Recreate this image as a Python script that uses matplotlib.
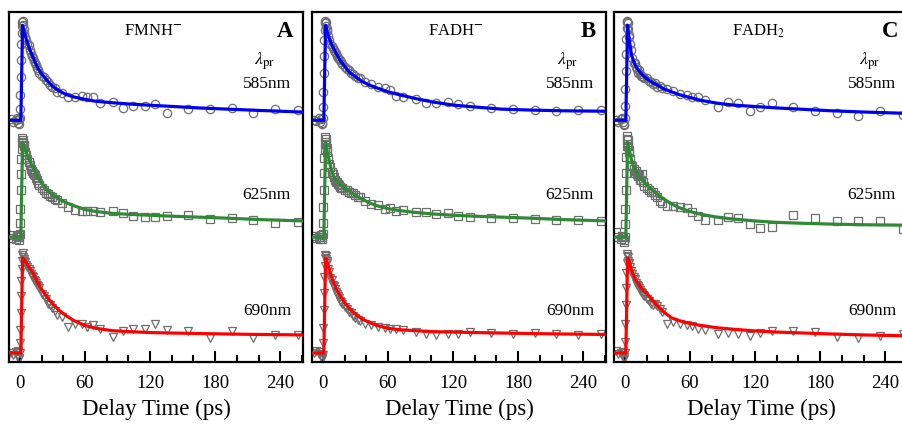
import matplotlib
matplotlib.use("Agg")
import matplotlib.pyplot as plt
from matplotlib.ticker import MultipleLocator

plt.rcParams['font.family'] = ['Liberation Serif', 'DejaVu Serif']
plt.rcParams['mathtext.fontset'] = 'stix'

# delay times of the measured points (ps)
t_data = [-8, -6, -4, -3, -2, -1, -0.5, 0, 0.3, 0.6, 0.9, 1.2, 1.5, 1.8, 2.1, 2.4, 2.7, 3.0, 3.5,
          4, 5, 6, 7, 8, 9, 10, 11, 12, 13, 14, 15, 16, 17, 18, 20, 22, 24, 26, 28, 30, 32, 34,
          39, 44, 51, 57, 62, 67, 74, 86, 95, 104, 115, 125, 136, 155, 175, 196, 215, 235, 256]

# delay times of the fitted curves (ps)
t_fit = [-10, 0.9, 2.5, 4, 6, 8, 10, 13, 16, 20, 25, 30, 36, 43, 50, 60, 70, 85, 100, 120, 140,
         165, 190, 220, 262]

# normalized transient absorption, panel A (FMNH-)
a585 = [0.01, -0.02, 0.0, 0.02, -0.03, 0.01, -0.04,
        0.02, 0.12, 0.27, 0.46, 0.63, 0.8, 0.92, 0.99, 1.03, 1.04, 1.0, 0.96,
        0.92, 0.88, 0.84, 0.8, 0.79, 0.74, 0.71, 0.68, 0.66, 0.62, 0.6, 0.58, 0.55, 0.53, 0.5,
        0.47, 0.46, 0.42, 0.4, 0.37, 0.35, 0.34, 0.3,
        0.29, 0.25, 0.25, 0.26, 0.24, 0.24, 0.18, 0.19, 0.13, 0.15, 0.15, 0.17, 0.075, 0.12,
        0.12, 0.13, 0.075, 0.12, 0.11]
a625 = [-0.01, 0.02, -0.02, 0.01, 0.0, -0.03, 0.02,
        0.03, 0.15, 0.3, 0.5, 0.66, 0.82, 0.93, 1.0, 1.04, 1.02, 0.99, 0.97,
        0.96, 0.9, 0.86, 0.82, 0.79, 0.76, 0.72, 0.7, 0.68, 0.66, 0.65, 0.62, 0.6, 0.57, 0.55,
        0.52, 0.5, 0.46, 0.45, 0.43, 0.42, 0.4, 0.39,
        0.36, 0.32, 0.29, 0.28, 0.28, 0.27, 0.26, 0.28, 0.25, 0.22, 0.21, 0.21, 0.22, 0.23,
        0.19, 0.2, 0.18, 0.15, 0.16]
a690 = [0.0, -0.02, 0.01, -0.03, 0.02, -0.05, -0.06,
        0.0, 0.1, 0.24, 0.42, 0.6, 0.76, 0.88, 0.97, 1.03, 1.05, 1.01, 0.99,
        0.97, 0.96, 0.93, 0.9, 0.88, 0.86, 0.83, 0.81, 0.8, 0.77, 0.76, 0.74, 0.72, 0.7, 0.68,
        0.62, 0.6, 0.57, 0.52, 0.5, 0.47, 0.44, 0.4,
        0.38, 0.27, 0.3, 0.3, 0.27, 0.29, 0.25, 0.17, 0.23, 0.25, 0.25, 0.3, 0.24, 0.23,
        0.16, 0.23, 0.16, 0.19, 0.19]

# panel B (FADH-)
b585 = [0.0, -0.01, 0.02, -0.02, 0.01, -0.03, -0.04,
        0.02, 0.14, 0.3, 0.5, 0.68, 0.84, 0.95, 1.02, 1.05, 1.03, 0.99, 0.96,
        0.94, 0.89, 0.85, 0.8, 0.78, 0.76, 0.74, 0.72, 0.71, 0.68, 0.66, 0.64, 0.63, 0.61, 0.59,
        0.56, 0.54, 0.53, 0.5, 0.49, 0.47, 0.45, 0.44,
        0.4, 0.38, 0.35, 0.34, 0.32, 0.26, 0.245, 0.22, 0.18, 0.18, 0.19, 0.17, 0.15, 0.13,
        0.117, 0.106, 0.096, 0.106, 0.106]
b625 = [0.01, -0.01, 0.0, -0.02, 0.02, -0.02, 0.0,
        0.03, 0.15, 0.32, 0.5, 0.68, 0.83, 0.93, 1.0, 1.05, 1.03, 0.98, 0.94,
        0.9, 0.83, 0.77, 0.74, 0.69, 0.66, 0.63, 0.6, 0.58, 0.58, 0.56, 0.55, 0.53, 0.52, 0.52,
        0.5, 0.5, 0.48, 0.46, 0.46, 0.44, 0.42, 0.42,
        0.38, 0.35, 0.34, 0.3, 0.31, 0.28, 0.29, 0.26, 0.26, 0.24, 0.25, 0.22, 0.21, 0.2,
        0.2, 0.19, 0.18, 0.18, 0.17]
b690 = [0.0, 0.02, -0.01, 0.01, -0.03, -0.05, -0.06,
        -0.02, 0.1, 0.26, 0.45, 0.63, 0.8, 0.92, 1.0, 1.03, 1.02, 0.99, 0.97,
        0.95, 0.88, 0.85, 0.79, 0.77, 0.72, 0.7, 0.67, 0.64, 0.62, 0.6, 0.58, 0.55, 0.54, 0.52,
        0.48, 0.46, 0.43, 0.42, 0.39, 0.37, 0.35, 0.34,
        0.31, 0.29, 0.27, 0.26, 0.25, 0.25, 0.24, 0.22, 0.2, 0.19, 0.2, 0.2, 0.22, 0.21,
        0.2, 0.21, 0.2, 0.19, 0.2]

# panel C (FADH2)
c585 = [0.0, -0.02, 0.01, 0.02, -0.02, -0.04, -0.05,
        0.02, 0.15, 0.33, 0.52, 0.7, 0.86, 0.97, 1.03, 1.05, 1.02, 0.96, 0.9,
        0.88, 0.8, 0.74, 0.66, 0.6, 0.6, 0.56, 0.54, 0.5, 0.53, 0.49, 0.47, 0.47, 0.46, 0.44,
        0.45, 0.41, 0.4, 0.38, 0.39, 0.35, 0.36, 0.34,
        0.33, 0.31, 0.28, 0.27, 0.25, 0.24, 0.21, 0.135, 0.19, 0.18, 0.1, 0.135, 0.18, 0.135,
        0.094, 0.073, 0.04, 0.094, 0.06]
c625 = [0.05, 0.0, -0.02, 0.01, 0.0, -0.03, -0.05,
        0.0, 0.14, 0.3, 0.5, 0.68, 0.84, 0.96, 1.03, 1.06, 1.02, 0.96, 0.92,
        0.9, 0.82, 0.76, 0.75, 0.72, 0.68, 0.7, 0.66, 0.64, 0.65, 0.6, 0.6, 0.66, 0.58, 0.54,
        0.52, 0.5, 0.48, 0.47, 0.44, 0.42, 0.38, 0.36,
        0.33, 0.33, 0.32, 0.31, 0.26, 0.22, 0.18, 0.18, 0.21, 0.2, 0.135, 0.1, 0.11, 0.23,
        0.2, 0.17, 0.17, 0.17, 0.083]
c690 = [0.02, -0.01, 0.0, -0.02, 0.01, -0.04, -0.06,
        0.0, 0.12, 0.3, 0.5, 0.68, 0.84, 0.95, 1.02, 1.04, 1.01, 0.97, 0.95,
        0.95, 0.9, 0.86, 0.83, 0.8, 0.78, 0.74, 0.72, 0.71, 0.68, 0.66, 0.64, 0.63, 0.61, 0.6,
        0.57, 0.55, 0.52, 0.5, 0.52, 0.49, 0.46, 0.43,
        0.31, 0.33, 0.3, 0.29, 0.28, 0.255, 0.245, 0.2, 0.21, 0.2, 0.18, 0.21, 0.235, 0.23,
        0.22, 0.17, 0.16, 0.18, 0.2]

# fitted curves
fa585 = [0, 0, 1, 0.93, 0.85, 0.78, 0.72, 0.64, 0.56, 0.49, 0.42, 0.36, 0.31, 0.27, 0.245, 0.22,
         0.2, 0.185, 0.172, 0.158, 0.146, 0.13, 0.118, 0.104, 0.086]
fa625 = [0, 0, 1, 0.95, 0.89, 0.83, 0.78, 0.71, 0.64, 0.57, 0.5, 0.45, 0.4, 0.36, 0.33, 0.29,
         0.27, 0.25, 0.24, 0.23, 0.22, 0.21, 0.2, 0.185, 0.17]
fa690 = [0, 0, 1, 0.98, 0.95, 0.91, 0.88, 0.82, 0.75, 0.67, 0.59, 0.52, 0.45, 0.39, 0.34, 0.29,
         0.26, 0.235, 0.225, 0.215, 0.21, 0.205, 0.2, 0.195, 0.19]
fb585 = [0, 0, 1, 0.93, 0.86, 0.8, 0.755, 0.69, 0.63, 0.57, 0.5, 0.46, 0.41, 0.37, 0.34, 0.3,
         0.27, 0.23, 0.195, 0.16, 0.14, 0.117, 0.108, 0.1, 0.095]
fb625 = [0, 0, 1, 0.9, 0.8, 0.7, 0.64, 0.59, 0.55, 0.52, 0.48, 0.44, 0.4, 0.36, 0.33, 0.3,
         0.28, 0.26, 0.245, 0.23, 0.22, 0.21, 0.2, 0.185, 0.17]
fb690 = [0, 0, 1, 0.95, 0.88, 0.8, 0.74, 0.66, 0.6, 0.53, 0.46, 0.41, 0.36, 0.32, 0.29, 0.26,
         0.245, 0.235, 0.225, 0.22, 0.215, 0.21, 0.205, 0.2, 0.195]
fc585 = [0, 0, 1, 0.85, 0.7, 0.62, 0.57, 0.52, 0.48, 0.44, 0.4, 0.37, 0.33, 0.3, 0.27, 0.24,
         0.21, 0.18, 0.16, 0.145, 0.13, 0.115, 0.1, 0.087, 0.072]
fc625 = [0, 0, 1, 0.92, 0.82, 0.74, 0.69, 0.64, 0.6, 0.55, 0.5, 0.45, 0.4, 0.35, 0.31, 0.27,
         0.24, 0.21, 0.19, 0.17, 0.155, 0.145, 0.137, 0.13, 0.125]
fc690 = [0, 0, 1, 0.96, 0.88, 0.82, 0.77, 0.72, 0.67, 0.63, 0.56, 0.5, 0.43, 0.37, 0.34, 0.31,
         0.29, 0.265, 0.25, 0.232, 0.22, 0.21, 0.2, 0.19, 0.18]

panels = [
    ("A", "FMNH$^{\\mathbf{-}}$", [a585, a625, a690], [fa585, fa625, fa690]),
    ("B", "FADH$^{\\mathbf{-}}$", [b585, b625, b690], [fb585, fb625, fb690]),
    ("C", "FADH$_{2}$", [c585, c625, c690], [fc585, fc625, fc690]),
]
wavelengths = ["585nm", "625nm", "690nm"]
offsets = [2.45, 1.22, 0.0]
line_colors = ["#0000f0", "#2f8a35", "#ff0000"]
markers = ["o", "s", "v"]
label_y = [0.794, 0.477, 0.146]

fig = plt.figure(figsize=(9.03, 4.26), dpi=100)
lefts = [9 / 903, 312 / 903, 614 / 903]

for left, (letter, title, data, fits) in zip(lefts, panels):
    ax = fig.add_axes([left, 1 - 362 / 426, 294 / 903, 350 / 426])
    for i in range(3):
        ax.plot(t_data, [v + offsets[i] for v in data[i]], linestyle="none",
                marker=markers[i], markersize=6, markerfacecolor="none",
                markeredgecolor="#6e6e6e", markeredgewidth=0.9, zorder=2)
        ax.plot(t_fit, [v + offsets[i] for v in fits[i]], color=line_colors[i],
                linewidth=2.3, zorder=3)
        ax.text(0.877, label_y[i], wavelengths[i], transform=ax.transAxes,
                ha="center", va="center", fontsize=12.5)
    ax.text(0.87, 0.86, "$\\lambda_{\\rm pr}$", transform=ax.transAxes,
            ha="center", va="center", fontsize=13)
    ax.text(0.49, 0.945, title, transform=ax.transAxes, ha="center", va="center",
            fontsize=12)
    ax.text(0.94, 0.945, letter, transform=ax.transAxes, ha="center", va="center",
            fontsize=16.5, fontweight="bold")

    ax.set_xlim(-10, 261)
    ax.set_ylim(-0.095, 3.59)
    ax.set_yticks([])
    ax.xaxis.set_major_locator(MultipleLocator(60))
    ax.xaxis.set_minor_locator(MultipleLocator(20))
    ax.tick_params(axis="x", which="both", direction="in", top=False, width=1.5,
                   labelsize=13.5, pad=9)
    ax.tick_params(axis="x", which="major", length=8)
    ax.tick_params(axis="x", which="minor", length=5)
    for s in ax.spines.values():
        s.set_linewidth(1.6)
    ax.set_xlabel("Delay Time (ps)", fontsize=16.5, labelpad=5)

fig.savefig("out.png", dpi=100)
